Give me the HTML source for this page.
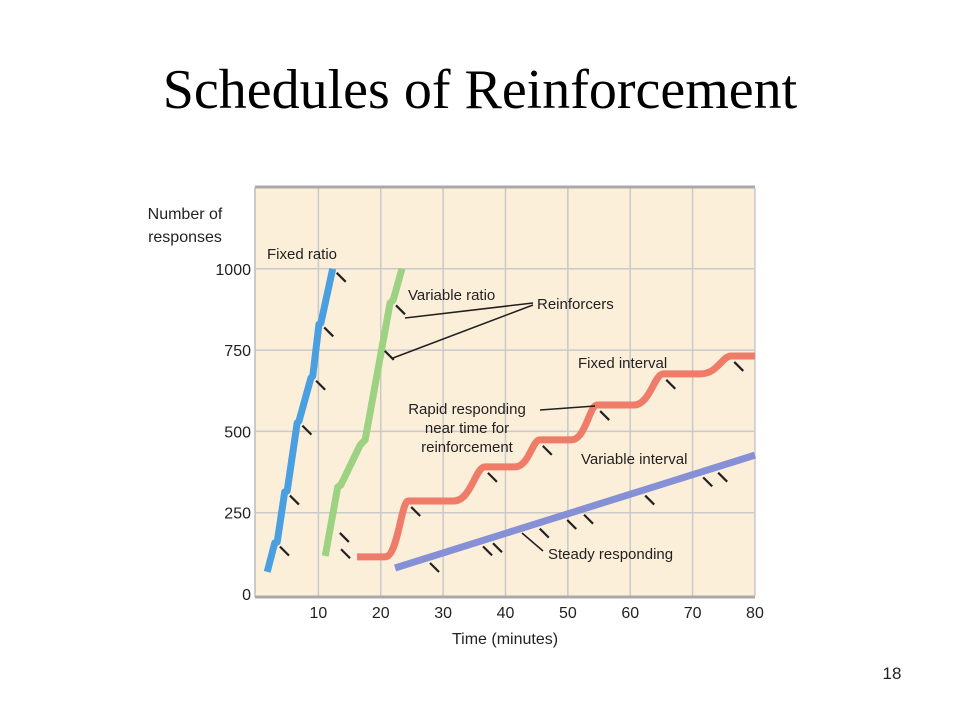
<!DOCTYPE html>
<html><head><meta charset="utf-8"><style>
body{margin:0;background:#fff;width:960px;height:720px;overflow:hidden}
svg text{font-family:"Liberation Sans",sans-serif;fill:#231f20}
svg text.title{font-family:"Liberation Serif",serif;fill:#000}
</style></head><body>
<svg id="c" width="960" height="720">
<text class="title" x="480" y="108" text-anchor="middle" font-size="56">Schedules of Reinforcement</text>
<text x="892" y="679" text-anchor="middle" font-size="17">18</text>
<rect x="255" y="187" width="500" height="410" fill="#fcefd9"/>
<g id="grid"></g>
<line x1="255" y1="187" x2="755" y2="187" stroke="#a9a9a9" stroke-width="3"/>
<line x1="255" y1="597" x2="755" y2="597" stroke="#a9a9a9" stroke-width="3"/>
<line x1="255" y1="187" x2="255" y2="597" stroke="#bbb" stroke-width="1.5"/>
<text x="185" y="219" text-anchor="middle" font-size="16"><tspan x="185">Number of</tspan><tspan x="185" dy="23">responses</tspan></text>
<text x="505" y="644" text-anchor="middle" font-size="16">Time (minutes)</text>
<g id="ticks"></g>
<g id="series"></g>
<g font-size="15">
<text x="267" y="259">Fixed ratio</text>
<text x="408" y="300">Variable ratio</text>
<text x="537" y="309">Reinforcers</text>
<line x1="533" y1="303" x2="405" y2="318" stroke="#231f20" stroke-width="1.5"/>
<line x1="533" y1="305" x2="393" y2="358" stroke="#231f20" stroke-width="1.5"/>
<text x="578" y="368">Fixed interval</text>
<text x="467" y="414" text-anchor="middle"><tspan x="467">Rapid responding</tspan><tspan x="467" dy="19">near time for</tspan><tspan x="467" dy="19">reinforcement</tspan></text>
<line x1="540" y1="410" x2="595" y2="406" stroke="#231f20" stroke-width="1.5"/>
<text x="581" y="464">Variable interval</text>
<text x="548" y="559">Steady responding</text>
<line x1="522" y1="533" x2="543" y2="551" stroke="#231f20" stroke-width="1.5"/>
</g>
</svg>
<script>
const xTicks=[10,20,30,40,50,60,70,80];
const yTicks=[0,250,500,750,1000];
const frT=[1.8,3.0,3.4,4.6,5.0,6.6,6.9,8.8,9.1,10.1,10.4,12.3];
const frV=[68,157,160,314,317,526,532,664,670,830,833,1000];
const frReinfT=[3.2,4.8,6.8,9.0,10.3,12.3];
const frReinfV=[158,315,530,668,832,1000];
const vrT=[11.1,13.1,13.6,16.7,17.5,21.5,22.0,23.4];
const vrV=[117,329,335,458,474,895,904,1000];
const vrReinfT=[12.8,13.0,21.8,20.0];
const vrReinfV=[200,150,900,760];
const fiT=[16.2,24.4,36.7,45.5,54.7,65.3,76.2];
const fiV=[114,286,391,474,581,677,732];
const viT=[22.3,80];
const viV=[80,427];
const viReinfT=[27.9,36.4,38.0,45.5,49.9,52.6,62.4,71.7,74.1];
const X=t=>256+t*6.237, Y=v=>594-v*0.3252;
const NS="http://www.w3.org/2000/svg";
function mk(tag,parent,attrs){const e=document.createElementNS(NS,tag);for(const k in attrs)e.setAttribute(k,attrs[k]);document.getElementById(parent).appendChild(e);return e;}
xTicks.forEach(t=>{
 const l=mk('line','grid',{x1:X(t),x2:X(t),y1:188,y2:596,stroke:'#c9c9c9','stroke-width':1.5});
 
 
 const tx=mk('text','ticks',{x:X(t),y:618,'text-anchor':'middle','font-size':16});
 
 
 tx.textContent=t;
});
yTicks.forEach(v=>{
 if(v>0){const l=mk('line','grid',{x1:256,x2:755,y1:Y(v),y2:Y(v),stroke:'#c9c9c9','stroke-width':1.5});
 
 }
 const tx=mk('text','ticks',{x:251,y:Y(v)+6,'text-anchor':'end','font-size':16});
 
 
 tx.textContent=v;
});
function poly(ts,vs,color,name){
 const d=ts.map((t,i)=>(i?'L':'M')+X(t)+','+Y(vs[i])).join(' ');
 const p=mk('path','series',{d:d,fill:'none',stroke:color,'stroke-width':7,'stroke-linejoin':'round'});
 
 
}
function tick(x,y){
 const l=mk('line','series',{x1:x,y1:y,x2:x+9,y2:y+9,stroke:'#231f20','stroke-width':2.2});
 
 
}
poly(frT,frV,'#4a9fe0','fixed-ratio-line');
frReinfT.forEach((t,i)=>tick(X(t)+4,Y(frReinfV[i])+4));
poly(vrT,vrV,'#9dd282','variable-ratio-line');
vrReinfT.forEach((t,i)=>tick(X(t)+4,Y(vrReinfV[i])+4));
let d='M'+X(fiT[0])+','+Y(fiV[0]);
for(let i=1;i<fiT.length;i++){
 const t0=fiT[i-1],v0=fiV[i-1],t1=fiT[i],v1=fiV[i],dt=t1-t0;
 const s=t1-Math.min(0.45*dt,5);
 d+=' L'+X(s)+','+Y(v0);
 const r=t1-s;
 d+=' C'+X(s+r*0.55)+','+Y(v0)+' '+X(t1-r*0.3)+','+Y(v1)+' '+X(t1)+','+Y(v1);
}
d+=' L'+X(80)+','+Y(fiV[fiV.length-1]);
const fi=mk('path','series',{d:d,fill:'none',stroke:'#ef7b69','stroke-width':7,'stroke-linejoin':'round'});


fiT.slice(1).forEach((t,i)=>tick(X(t)+3,Y(fiV[i+1])+6));
poly(viT,viV,'#8690d6','variable-interval-line');
const slope=(viV[1]-viV[0])/(viT[1]-viT[0]);
viReinfT.forEach(t=>tick(X(t),Y(viV[0]+slope*(t-viT[0]))+6));
</script>
</body></html>
